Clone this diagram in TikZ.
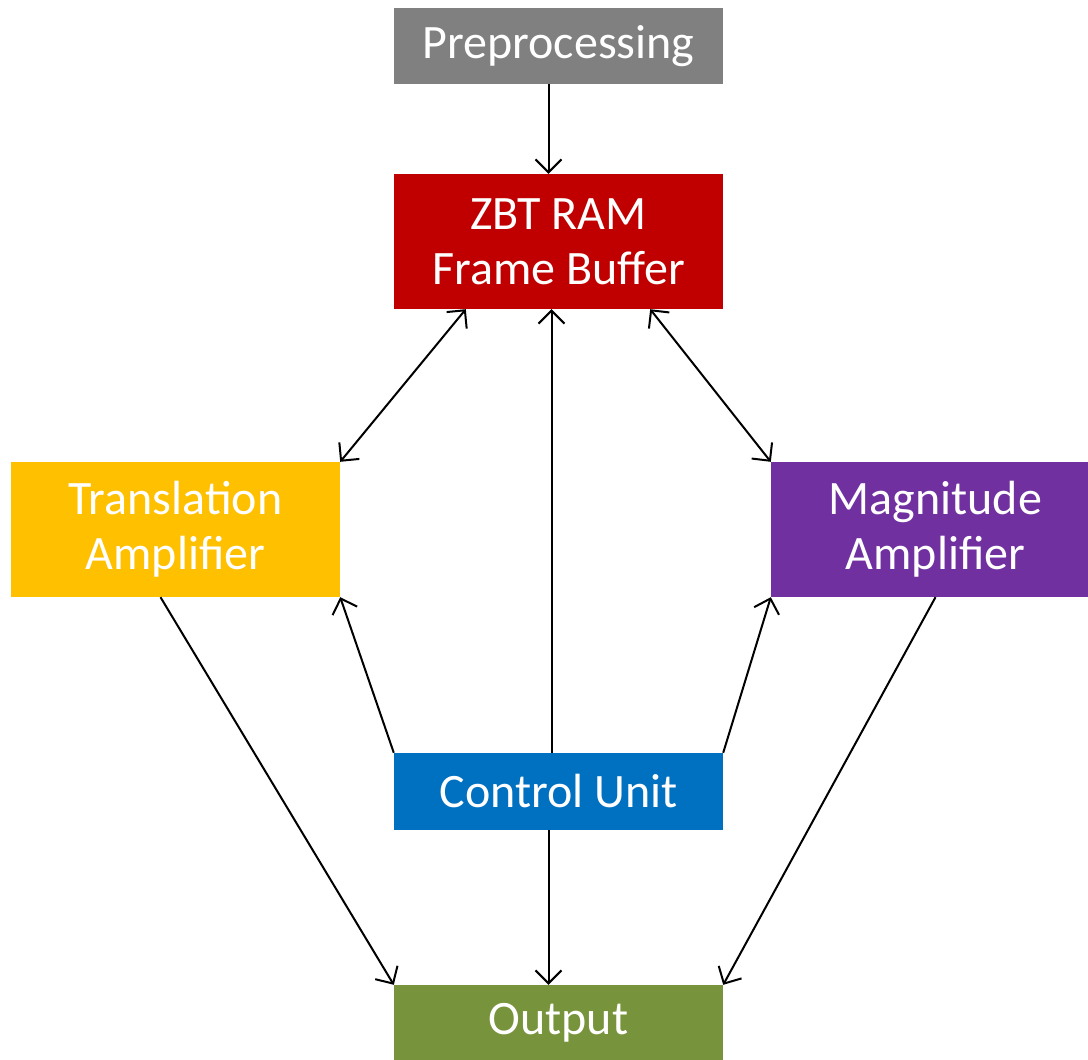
\documentclass[tikz,border=0pt]{standalone}
\usepackage{fontspec}
\setmainfont{Carlito}
\usetikzlibrary{arrows.meta}
\definecolor{cgray}{HTML}{808080}
\definecolor{cred}{HTML}{C00000}
\definecolor{cyel}{HTML}{FFC000}
\definecolor{cpur}{HTML}{7030A0}
\definecolor{cblue}{HTML}{0070C0}
\definecolor{cgreen}{HTML}{77933C}
\begin{document}
\begin{tikzpicture}[x=1pt,y=-1pt,
  box/.style={rectangle, inner sep=0pt, text=white, align=center,
    font=\fontsize{48}{55}\selectfont},
  conn/.style={line width=2pt, -{Straight Barb[length=13pt,width=26pt,line width=2pt]}},
  bconn/.style={line width=2pt, {Straight Barb[length=13pt,width=26pt,line width=2pt]}-{Straight Barb[length=13pt,width=26pt,line width=2pt]}}]
\useasboundingbox (0,0) rectangle (1088,1060);
\clip (0,0) rectangle (1088,1060);
\node[box, fill=cgray, minimum width=329pt, minimum height=76pt] (pre) at (558.5,46) {Preprocessing};
\node[box, fill=cred, minimum width=329pt, minimum height=135pt] (zbt) at (558.5,241.5) {ZBT RAM\\Frame Buffer};
\node[box, fill=cyel, minimum width=329pt, minimum height=135pt] (tra) at (175.5,529.5) {Translation\\Amplifier};
\node[box, fill=cpur, minimum width=329pt, minimum height=135pt] (mag) at (935.5,529.5) {Magnitude\\Amplifier};
\node[box, fill=cblue, minimum width=329pt, minimum height=77pt] (ctl) at (558.5,791.5) {Control Unit};
\node[box, fill=cgreen, minimum width=329pt, minimum height=75pt] (out) at (558.5,1022.5) {Output};
\draw[conn] ([xshift=-10pt]pre.south) -- ([xshift=-10pt]zbt.north);
\draw[bconn] ([xshift=72pt]zbt.south west) -- (tra.north east);
\draw[bconn] ([xshift=-73pt]zbt.south east) -- (mag.north west);
\draw[conn] ([xshift=-7pt]ctl.north) -- ([xshift=-7pt]zbt.south);
\draw[conn] (ctl.north west) -- (tra.south east);
\draw[conn] (ctl.north east) -- (mag.south west);
\draw[conn] ([xshift=-10pt]ctl.south) -- ([xshift=-10pt]out.north);
\draw[conn] ([xshift=-15pt]tra.south) -- (out.north west);
\draw[conn] (mag.south) -- (out.north east);
\end{tikzpicture}
\end{document}
